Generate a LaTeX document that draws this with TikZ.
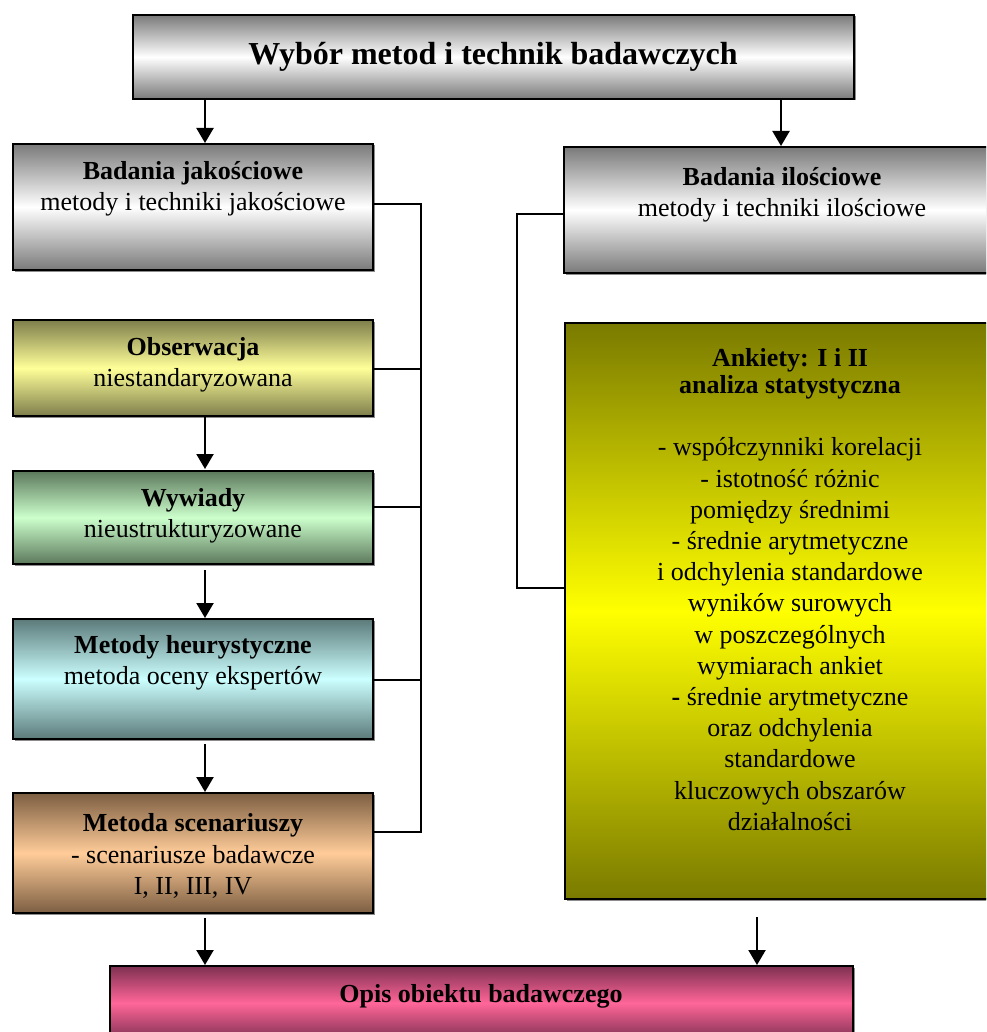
\documentclass[tikz,border=0pt]{standalone}
\usepackage{fontspec}
\setmainfont{Liberation Serif}
\usetikzlibrary{arrows.meta,shadows}

\definecolor{grayedge}{HTML}{7A7A7A}
\definecolor{obsedge}{HTML}{7E7E4C}
\definecolor{obsmid}{HTML}{FFFF99}
\definecolor{wywedge}{HTML}{5C785C}
\definecolor{wywmid}{HTML}{CCFFCC}
\definecolor{heuedge}{HTML}{5C7A7A}
\definecolor{heumid}{HTML}{CCFFFF}
\definecolor{scnedge}{HTML}{7C5E42}
\definecolor{scnmid}{HTML}{FFCC99}
\definecolor{ankedge}{HTML}{7A7A00}
\definecolor{ankmid}{HTML}{FFFF00}
\definecolor{opsedge}{HTML}{7E3050}
\definecolor{opsmid}{HTML}{FF6699}

\tikzset{
  box/.style={draw=black, line width=2pt, rectangle, inner sep=0pt,
    drop shadow={shadow xshift=1.5pt, shadow yshift=-1.5pt, fill=black!45, opacity=1}},
  graybox/.style={box, top color=grayedge, bottom color=grayedge, middle color=white},
  obsbox/.style={box, top color=obsedge, bottom color=obsedge, middle color=obsmid},
  wywbox/.style={box, top color=wywedge, bottom color=wywedge, middle color=wywmid},
  heubox/.style={box, top color=heuedge, bottom color=heuedge, middle color=heumid},
  scnbox/.style={box, top color=scnedge, bottom color=scnedge, middle color=scnmid},
  ankbox/.style={box, top color=ankedge, bottom color=ankedge, middle color=ankmid},
  opsbox/.style={box, top color=opsedge, bottom color=opsedge, middle color=opsmid},
  txt/.style={align=center, inner sep=0pt, font=\fontsize{26}{31.2}\selectfont},
  arr/.style={line width=2.2pt, -{Triangle[width=17pt,length=15pt]}},
  link/.style={line width=1.6pt}
}

% place a box of given corners as a named node
\newcommand\mkbox[6]{%
  \node[#1, minimum width={#4-#2}, minimum height={#5-#3}] (#6) at ({(#2+#4)/2},{(#3+#5)/2}) {};}

\begin{document}
\begin{tikzpicture}[x=1pt, y=-1pt]
\useasboundingbox (0,0) rectangle (986,1032);
\clip (0,0) rectangle (986,1032);

% boxes
\mkbox{graybox}{133}{15}{854}{99}{top}
\mkbox{graybox}{13}{144}{373}{270}{jak}
\mkbox{graybox}{564}{147}{1000}{273}{ilo}
\mkbox{obsbox}{13}{320}{373}{416}{obs}
\mkbox{wywbox}{13}{471}{373}{564}{wyw}
\mkbox{heubox}{13}{619}{373}{739}{heu}
\mkbox{scnbox}{13}{793}{373}{913}{scn}
\mkbox{ankbox}{565}{323}{1015}{899}{ank}
\mkbox{opsbox}{110}{966}{853}{1040}{ops}

% texts
\node[txt, font=\fontsize{32}{38}\selectfont\bfseries] (ttop) at (493,57) {Wybór metod i technik badawczych};
\node[txt] (tjak) at (193,189) {\textbf{Badania jakościowe}\\metody i techniki jakościowe};
\node[txt] (tilo) at (782,194.5) {\textbf{Badania ilościowe}\\metody i techniki ilościowe};
\node[txt] (tobs) at (193,365) {\textbf{Obserwacja}\\niestandaryzowana};
\node[txt] (twyw) at (193,516) {\textbf{Wywiady}\\nieustrukturyzowane};
\node[txt] (theu) at (193,663) {\textbf{Metody heurystyczne}\\metoda oceny ekspertów};
\node[txt] (tscn) at (193,856) {\textbf{Metoda scenariuszy}\\- scenariusze badawcze\\I, II, III, IV};
\node[txt, anchor=north] (tank) at (790,348) {%
  \textbf{Ankiety: I i II}\\[-4pt]
  \textbf{analiza statystyczna}\\[31.2pt]
  - współczynniki korelacji\\
  - istotność różnic\\
  pomiędzy średnimi\\
  - średnie arytmetyczne\\
  i odchylenia standardowe\\
  wyników surowych\\
  w poszczególnych\\
  wymiarach ankiet\\
  \textbf{-} średnie arytmetyczne\\
  oraz odchylenia\\
  standardowe\\
  kluczowych obszarów\\
  działalności};
\node[txt, font=\fontsize{26}{31.2}\selectfont\bfseries] (tops) at (481,996) {Opis obiektu badawczego};

% vertical axes of the arrows
\coordinate (ax) at (205,0);
\coordinate (bx) at (781,0);
\coordinate (cx) at (757,0);

% arrows
\draw[arr] (top.south -| ax) -- (jak.north -| ax);
\draw[arr] (top.south -| bx) -- (ilo.north -| bx);
\draw[arr] (obs.south -| ax) -- ([yshift=1pt]wyw.north -| ax);
\draw[arr] ([yshift=-5pt]wyw.south -| ax) -- (heu.north -| ax);
\draw[arr] ([yshift=-4pt]heu.south -| ax) -- (scn.north -| ax);
\draw[arr] ([yshift=-4pt]scn.south -| ax) -- (ops.north -| ax);
\draw[arr] ([yshift=-17pt]ank.south -| cx) -- (ops.north -| cx);

% links of the qualitative branch
\coordinate (j1) at (421,204);
\coordinate (j2) at (421,832);
\coordinate (j3) at (421,369);
\coordinate (j4) at (421,507);
\coordinate (j5) at (421,680);
\draw[link] (jak.east |- j1) -- (j1) -- (j2) -- (scn.east |- j2);
\draw[link] (obs.east |- j3) -- (j3);
\draw[link] (wyw.east |- j4) -- (j4);
\draw[link] (heu.east |- j5) -- (j5);

% link of the quantitative branch
\coordinate (k1) at (517,214);
\coordinate (k2) at (517,588);
\draw[link] (ilo.west |- k1) -- (k1) -- (k2) -- (ank.west |- k2);
\end{tikzpicture}
\end{document}
